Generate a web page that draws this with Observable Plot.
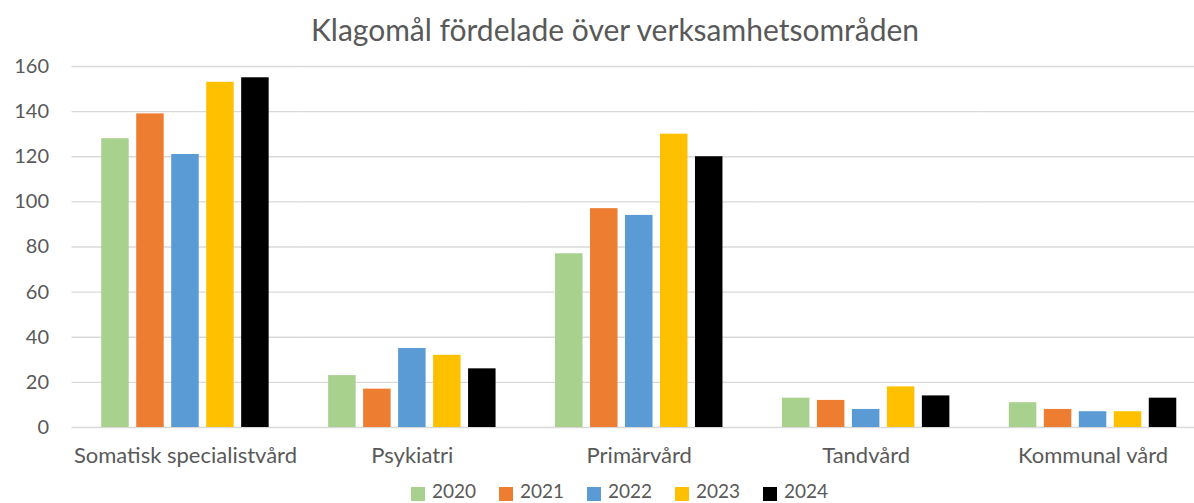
<!DOCTYPE html>
<html><head><meta charset="utf-8">
<script src="https://cdn.jsdelivr.net/npm/d3@7"></script>
<script src="https://cdn.jsdelivr.net/npm/@observablehq/plot@0.6"></script>
<style>
body{margin:0;overflow:hidden;background:#fff;font-family:Lato,sans-serif;color:#595959;width:1194px;height:503px;position:relative}
#title{position:absolute;left:0;top:11px;width:1230px;text-align:center;font-size:30px;line-height:36px}
#chart{position:absolute;left:0;top:50px;width:1206px}
#chart svg{max-width:none !important}
#legend{position:absolute;left:411px;top:483px;height:16px;display:flex;font-size:19px;line-height:16px}
.item{display:flex;align-items:center;width:88px;height:16px}
.sw{width:14px;height:14px;margin-right:7px;position:relative;top:3px}
</style></head><body>
<div id="title">Klagomål fördelade över verksamhetsområden</div>
<div id="chart"></div>
<div id="legend"></div>
<script>
const categories = ["Somatisk specialistvård", "Psykiatri", "Primärvård", "Tandvård", "Kommunal vård"];
const years = ["2020", "2021", "2022", "2023", "2024"];
const colors = ["#A9D18E", "#ED7D31", "#5B9BD5", "#FFC000", "#000000"];
const values2020 = [128, 23, 77, 13, 11];
const values2021 = [139, 17, 97, 12, 8];
const values2022 = [121, 35, 94, 8, 7];
const values2023 = [153, 32, 130, 18, 7];
const values2024 = [155, 26, 120, 14, 13];
const yTicks = [0, 20, 40, 60, 80, 100, 120, 140, 160];

const series = [values2020, values2021, values2022, values2023, values2024];
const data = [];
years.forEach((yr, i) => categories.forEach((c, j) => data.push({cat: c, year: yr, value: series[i][j]})));

const chart = Plot.plot({
  width: 1206, height: 427,
  marginLeft: 71.5, marginRight: 0, marginTop: 16, marginBottom: 50,
  style: {fontFamily: "Lato, sans-serif", fontSize: "20px", color: "#595959", background: "transparent", overflow: "visible", maxWidth: "none"},
  fx: {domain: categories, padding: 0, label: null, axis: null, round: false},
  x: {domain: years, paddingInner: 0.214, paddingOuter: 0.85, axis: null, round: false},
  y: {domain: [0, 160], axis: null},
  color: {domain: years, range: colors},
  marks: [
    Plot.gridY(yTicks, {stroke: "#d9d9d9", strokeOpacity: 1, strokeWidth: 1.3}),
    Plot.barY(data, {fx: "cat", x: "year", y: "value", fill: "year"}),
    Plot.axisY(yTicks, {tickSize: 0, tickPadding: 23, label: null, fill: "#595959", facetAnchor: "left"}),
    Plot.axisFx({tickSize: 0, tickPadding: 20, label: null, fill: "#595959", anchor: "bottom", fontSize: 22})
  ]
});
chart.style.maxWidth = "none";
document.getElementById("chart").appendChild(chart);

const legend = document.getElementById("legend");
years.forEach((yr, i) => {
  const it = document.createElement("div"); it.className = "item";
  const sw = document.createElement("div"); sw.className = "sw"; sw.style.background = colors[i];
  const t = document.createElement("span"); t.textContent = yr;
  it.appendChild(sw); it.appendChild(t); legend.appendChild(it);
});
</script>
</body></html>
